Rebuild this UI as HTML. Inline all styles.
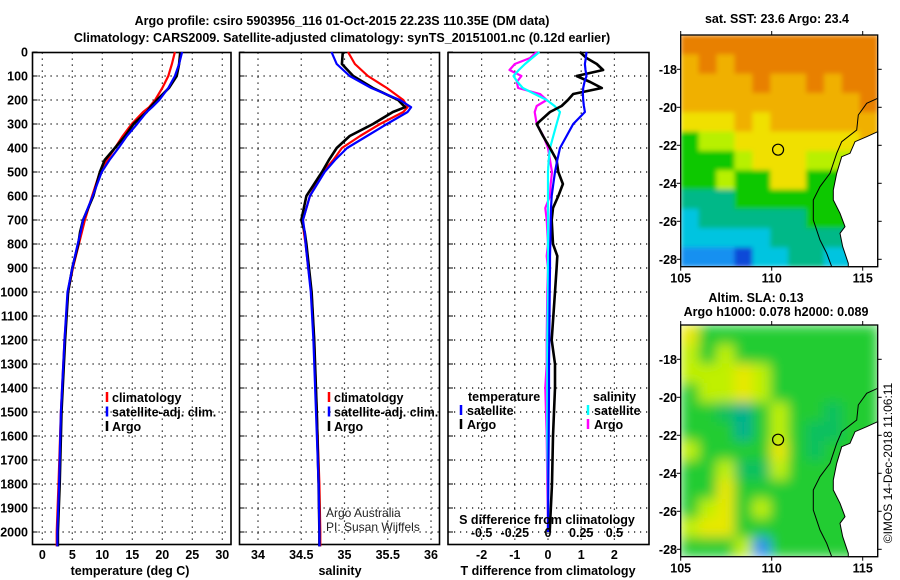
<!DOCTYPE html>
<html><head><meta charset="utf-8"><style>
body{margin:0;background:#fff;}
svg{display:block;font-family:"Liberation Sans",Arial,sans-serif;}
.b{font-weight:bold;font-size:12.5px;}
</style></head><body>
<svg id="c" width="900" height="580" viewBox="0 0 900 580" xmlns="http://www.w3.org/2000/svg">
<defs>
<filter id="blurSST" x="0" y="0" width="1" height="1"><feGaussianBlur stdDeviation="2.5" edgeMode="duplicate"/></filter>
<filter id="blurSLA" x="0" y="0" width="1" height="1"><feGaussianBlur stdDeviation="6" edgeMode="duplicate"/></filter>
<clipPath id="clipSST"><rect x="680.7" y="35" width="197" height="231.7"/></clipPath>
<clipPath id="clipSLA"><rect x="680.7" y="325" width="197" height="231.7"/></clipPath>
</defs>
</svg>
<script>
const depthsUpper=[0,50,100,150,200,230,250,300,350,400,450,500,600,700,750,800,900,1000,1200,1500,1800,2000,2060];
const tempClim=[22.1,21.6,21.0,20.0,18.8,17.8,16.8,14.9,13.4,12.1,10.8,9.6,8.3,7.1,6.6,6.1,5.1,4.3,3.7,3.1,2.7,2.4,2.4];
const tempSat=[23.3,22.8,22.1,21.0,19.5,18.3,17.4,15.8,14.1,12.7,11.2,9.9,8.4,6.8,6.4,5.9,5.0,4.2,3.7,3.1,2.8,2.5,2.5];
const tempArgo=[23.0,22.8,22.4,21.1,19.1,18.0,17.4,15.2,13.8,12.1,10.4,9.6,8.5,6.8,6.3,6.0,5.0,4.3,3.8,3.2,2.9,2.6,2.6];
const salClim=[35.04,35.12,35.27,35.49,35.68,35.73,35.68,35.41,35.18,34.97,34.87,34.75,34.60,34.52,34.53,34.55,34.58,34.62,34.65,34.68,34.71,34.72,34.72];
const salSat=[34.85,34.91,35.06,35.31,35.64,35.77,35.73,35.49,35.26,35.03,34.89,34.77,34.60,34.52,34.54,34.55,34.58,34.61,34.64,34.67,34.70,34.71,34.71];
const salArgo=[34.98,34.97,35.10,35.33,35.62,35.70,35.56,35.33,35.06,34.91,34.82,34.74,34.56,34.50,34.54,34.56,34.59,34.62,34.65,34.68,34.70,34.71,34.71];
const diffDepths=[0,25,50,75,100,125,150,175,200,225,250,300,350,400,450,500,550,600,650,700,800,850,900,1000,1200,1300,1400,1600,1800,2000];
const dTSat=[1.16,1.14,1.11,1.13,1.16,1.1,1.06,1.05,1.06,1.08,1.11,0.76,0.56,0.36,0.28,0.21,0.16,0.11,0.09,0.08,0.07,0.06,0.06,0.05,0.04,0.03,0.03,0.02,0.01,0.0];
const dTArgo=[0.96,1.16,1.47,1.66,0.86,1.27,1.62,0.76,0.6,0.41,0.06,-0.34,-0.15,0.06,0.26,0.31,0.45,0.31,0.15,0.11,0.15,0.28,0.26,0.21,0.11,0.21,0.21,0.15,0.12,0.05];
const dSSat=[-0.065,-0.12,-0.173,-0.22,-0.26,-0.23,-0.19,-0.1,-0.01,0.05,0.09,0.065,0.04,0.015,0.005,0,0,0,0,0,0,0,0,0,-0.005,-0.005,-0.005,-0.005,0,0];
const dSArgo=[-0.085,-0.135,-0.25,-0.29,-0.2,-0.235,-0.225,-0.06,-0.01,-0.085,-0.1,-0.085,-0.035,0,0.015,0.03,0.02,0.015,-0.02,-0.01,0,-0.01,0,-0.005,-0.01,-0.01,-0.02,-0.01,-0.005,0];
const depthTicks=[0,100,200,300,400,500,600,700,800,900,1000,1100,1200,1300,1400,1500,1600,1700,1800,1900,2000];
const tempTicks=[0,5,10,15,20,25,30];
const salTicks=[34,34.5,35,35.5,36];
const dTTicks=[-2,-1,0,1,2];
const dSTicks=[-0.5,-0.25,0,0.25,0.5];
const dSTickLabels=["-0.5","-0.25","0","0.25","0.5"];
const sstGrid=[
[8,8,8,8,8,8,8,8,8,8,8],
[7,8,7,8,8,8,8,8,8,8,8],
[7,7,7,7,8,7,7,8,7,8,8],
[7,7,7,7,7,7,7,7,7,7,8],
[6,6,6,7,6,7,7,7,7,7,7],
[4,5,5,6,6,6,6,6,6,6,7],
[4,4,4,5,6,6,6,5,5,5,6],
[4,4,5,4,4,6,6,4,4,4,4],
[3,3,3,4,4,4,4,4,4,4,4],
[2,3,3,3,3,3,3,4,4,4,4],
[2,2,2,2,2,3,3,3,3,3,3],
[1,1,1,0,2,2,3,3,2,2,2]];
const slaGrid=[
[6,3,3,3,3,3,3,3,3,3,3],
[5,3,5,3,3,3,3,3,3,3,3],
[5,5,5,6,5,3,3,3,3,3,3],
[3,5,5,6,5,3,3,3,3,3,3],
[3,3,2,1,3,5,3,3,2,3,3],
[3,3,3,1,3,5,3,2,2,3,3],
[5,3,3,3,3,6,3,2,3,3,3],
[3,3,5,2,2,5,3,3,3,3,3],
[3,3,6,3,3,3,3,3,3,3,3],
[3,5,6,3,5,3,3,3,3,3,3],
[5,6,6,3,3,3,3,3,3,3,3],
[3,3,3,5,0,3,3,3,3,3,3]];
const sstColors=["#1048d8","#1890f0","#00c4e0","#00b888","#10c800","#b8f000","#f0e000","#f0b000","#e88000"];
const slaColors=["#3090f0","#00b090","#10c060","#20cc30","#80e020","#c0f000","#e8e800"];
const lonTicks=[105,110,115];
const latTicks=[-18,-20,-22,-24,-26,-28];
const floatLon=110.35, floatLat=-22.23;

const svg=document.getElementById('c');
const NS='http://www.w3.org/2000/svg';
function mk(tag,attrs,parent,name,inter){const e=document.createElementNS(NS,tag);for(const k in attrs)e.setAttribute(k,attrs[k]);(parent||svg).appendChild(e);


return e;}
function txt(s,x,y,anchor,cls,name,extra){const t=mk('text',Object.assign({x:x,y:y,'text-anchor':anchor||'middle','class':cls||'b'},extra||{}),svg,name);t.textContent=s;return t;}

const yD=d=>52+d*0.24;
const PT={x0:32.5,x1:231,fx:v=>42.3+6*v};
const PS={x0:239.5,x1:439.5,fx:v=>258+86.5*(v-34)};
const PD={x0:448,x1:649,fx:v=>548+33.2*v,fs:v=>548+132.8*v};
const pTop=52.5,pBot=544.5;

function grid(P,ticksX,fx,name){
  const g=mk('g',{},svg,name+'-grid');
  depthTicks.forEach(d=>{if(d>0){mk('line',{x1:P.x0,x2:P.x1,y1:yD(d),y2:yD(d),stroke:'#000','stroke-width':1.2,'stroke-dasharray':'1.2 4.8'},g,'grid-line-depth');}
    mk('line',{x1:P.x0,x2:P.x0+5,y1:yD(d),y2:yD(d),stroke:'#000','stroke-width':1},g,'y-tick');});
  ticksX.forEach(v=>{mk('line',{x1:fx(v),x2:fx(v),y1:pTop,y2:pBot,stroke:'#000','stroke-width':1.2,'stroke-dasharray':'1.2 4.8'},g,'grid-line-x');});
  mk('rect',{x:P.x0,y:pTop,width:P.x1-P.x0,height:pBot-pTop,fill:'none',stroke:'#000','stroke-width':1.6},svg,name+'-frame');
}
function line(xs,ds,fx,color,name,w){const pts=xs.map((v,i)=>fx(v).toFixed(1)+','+yD(ds[i]).toFixed(1)).join(' ');
  mk('polyline',{points:pts,fill:'none',stroke:color,'stroke-width':w||2.2,'stroke-linejoin':'round'},svg,name);}

txt('Argo profile: csiro 5903956_116 01-Oct-2015 22.23S 110.35E (DM data)',342,25,'middle','b','title-line-1',{'font-size':'14px'});
txt('Climatology: CARS2009. Satellite-adjusted climatology: synTS_20151001.nc (0.12d earlier)',342,42,'middle','b','title-line-2',{'font-size':'14px'});

grid(PT,tempTicks,PT.fx,'temperature-panel');
depthTicks.forEach(d=>txt(String(d),28,yD(d)+4.5,'end','b','depth-tick-label'));
tempTicks.forEach(v=>txt(String(v),PT.fx(v),559,'middle','b','temperature-tick-label'));
txt('temperature (deg C)',130,575,'middle','b','x-axis-title-temperature');
line(tempClim,depthsUpper,PT.fx,'#f00','temp-climatology-line');
line(tempArgo,depthsUpper,PT.fx,'#000','temp-argo-line',2.6);
line(tempSat,depthsUpper,PT.fx,'#00f','temp-satellite-line');
function legend(x,y,items,name){items.forEach((it,i)=>{mk('line',{x1:x,x2:x,y1:y+i*14.5-6,y2:y+i*14.5+4,stroke:it[1],'stroke-width':2.5},svg,name+'-marker');
  txt(it[0],x+5,y+i*14.5+4,'start','b',name+'-entry');});}
legend(107,398,[['climatology','#f00'],['satellite-adj. clim.','#00f'],['Argo','#000']],'legend-temperature');

grid(PS,salTicks,PS.fx,'salinity-panel');
salTicks.forEach(v=>txt(String(v),PS.fx(v),559,'middle','b','salinity-tick-label'));
txt('salinity',340,575,'middle','b','x-axis-title-salinity');
line(salClim,depthsUpper,PS.fx,'#f00','sal-climatology-line');
line(salArgo,depthsUpper,PS.fx,'#000','sal-argo-line',2.6);
line(salSat,depthsUpper,PS.fx,'#00f','sal-satellite-line');
legend(329,398,[['climatology','#f00'],['satellite-adj. clim.','#00f'],['Argo','#000']],'legend-salinity');
txt('Argo Australia',326,517,'start','n','credit-argo-australia',{'font-size':'12px','fill':'#222'});
txt('PI: Susan Wijffels',326,531,'start','n','credit-pi',{'font-size':'12px','fill':'#222'});

grid(PD,dTTicks,PD.fx,'difference-panel');
dTTicks.forEach(v=>txt(String(v),PD.fx(v),559,'middle','b','t-diff-tick-label'));
txt('T difference from climatology',548,575,'middle','b','x-axis-title-t-difference');
line(dSArgo,diffDepths,PD.fs,'#f0f','s-diff-argo-line');
line(dSSat,diffDepths,PD.fs,'#0ff','s-diff-satellite-line');
line(dTArgo,diffDepths,PD.fx,'#000','t-diff-argo-line',2.6);
line(dTSat,diffDepths,PD.fx,'#00f','t-diff-satellite-line');
txt('S difference from climatology',547,524,'middle','b','s-axis-title');
dSTicks.forEach((v,i)=>txt(dSTickLabels[i],PD.fs(v),537,'middle','b','s-diff-tick-label'));
txt('temperature',468,401,'start','b','legend-diff-temperature-heading');
txt('salinity',593,401,'start','b','legend-diff-salinity-heading');
[['satellite','#00f',461,415],['Argo','#000',461,429],['satellite','#0ff',588,415],['Argo','#f0f',588,429]].forEach(it=>{
  mk('line',{x1:it[2],x2:it[2],y1:it[3]-10,y2:it[3],stroke:it[1],'stroke-width':2.5},svg,'legend-diff-marker');
  txt(it[0],it[2]+6,it[3],'start','b','legend-diff-entry');});

function map(y0,gridv,colors,name,filt,clip){
  const X0=680.7,X1=877.7,Y0=y0,Y1=y0+231.7;
  const fx=lon=>680.7+(lon-105)*18.2, fy=lat=>y0+34.3+(-18-lat)*19;
  const g=mk('g',{},svg,name);
  const cg=mk('g',{'clip-path':'url(#'+clip+')'},g,name+'-field-clip');
  const cells=mk('g',{filter:'url(#'+filt+')'},cg,name+'-field');
  const cw=(X1-X0)/11, ch=(Y1-Y0)/12;
  gridv.forEach((row,r)=>row.forEach((v,c)=>{mk('rect',{x:(X0+c*cw).toFixed(2),y:(Y0+r*ch).toFixed(2),width:(cw+0.5).toFixed(2),height:(ch+0.5).toFixed(2),fill:colors[v]},cells,name+'-cell');}));
  const land=[[197,96.7],[186,101.7],[174.3,106.7],[169.3,118.3],[161,121.7],[156,138.3],[152.6,155],[152.6,165],[159.3,178.3],[164.3,191.7],[159.3,198.3],[162,211.7],[167.6,228.3],[167.6,231.7],[197,231.7]];
  mk('polygon',{points:land.map(p=>(X0+p[0])+','+(Y0+p[1])).join(' '),fill:'#fff',stroke:'#000','stroke-width':1},g,name+'-land');
  const iso=[[197,63.3],[186,68.3],[177.6,80],[176,95],[161,106.7],[156,118.3],[149.3,138.3],[139.3,151.7],[132.6,165],[132.6,185],[139.3,205],[146,218.3],[151,231.7]];
  mk('polyline',{points:iso.map(p=>(X0+p[0])+','+(Y0+p[1])).join(' '),fill:'none',stroke:'#000','stroke-width':1},g,name+'-isobath');
  mk('circle',{cx:fx(floatLon),cy:fy(floatLat),r:5.5,fill:'none',stroke:'#000','stroke-width':1.2},g,name+'-float-location');
  mk('rect',{x:X0,y:Y0,width:X1-X0,height:Y1-Y0,fill:'none',stroke:'#000','stroke-width':1.3},g,name+'-frame');
  lonTicks.forEach(l=>{txt(String(l),fx(l),Y1+16,'middle','b',name+'-lon-label',{'font-size':'13px'});
    mk('line',{x1:fx(l),x2:fx(l),y1:Y1,y2:Y1+4,stroke:'#000'},g,'lon-tick');mk('line',{x1:fx(l),x2:fx(l),y1:Y0-4,y2:Y0,stroke:'#000'},g,'lon-tick');});
  latTicks.forEach(l=>{txt(String(l),677,fy(l)+4.5,'end','b',name+'-lat-label',{'font-size':'12px'});
    mk('line',{x1:X1,x2:X1+4,y1:fy(l),y2:fy(l),stroke:'#000'},g,'lat-tick');mk('line',{x1:X0-4,x2:X0,y1:fy(l),y2:fy(l),stroke:'#000'},g,'lat-tick');});
}
map(35,sstGrid,sstColors,'sst-map','blurSST','clipSST');
map(325,slaGrid,slaColors,'sla-map','blurSLA','clipSLA');
txt('sat. SST: 23.6 Argo: 23.4',777,23,'middle','b','sst-map-title');
txt('Altim. SLA: 0.13',756,302,'middle','b','sla-map-title-1');
txt('Argo h1000: 0.078 h2000: 0.089',776,316,'middle','b','sla-map-title-2');
txt('©IMOS 14-Dec-2018 11:06:11',892,463,'middle','n','timestamp',{'font-size':'12px','transform':'rotate(-90 892 463)'});
</script>
</body></html>
